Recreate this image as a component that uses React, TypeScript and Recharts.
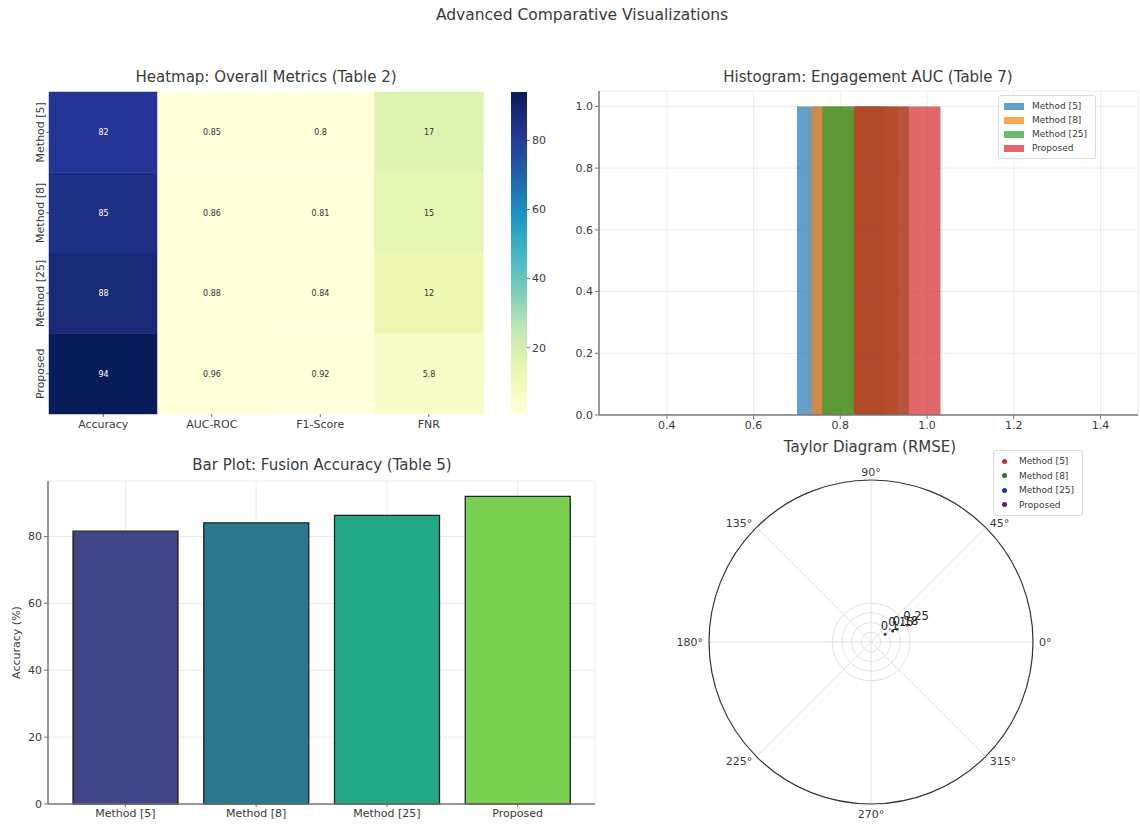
import React from 'react';
import {
  BarChart, Bar, XAxis, YAxis, Cell, LabelList, CartesianGrid, ScatterChart, Scatter,
  ReferenceArea, Legend, RadarChart, Radar, PolarGrid, PolarAngleAxis, PolarRadiusAxis,
} from 'recharts';

const FONT = '"DejaVu Sans", sans-serif';
const TEXT = '#3a3a3a';

// Heatmap: Overall Metrics (Table 2)
const methods = ['Method [5]', 'Method [8]', 'Method [25]', 'Proposed'];
const metrics = ['Accuracy', 'AUC-ROC', 'F1-Score', 'FNR'];
const method5Scores = [82, 0.85, 0.8, 17];
const method8Scores = [85, 0.86, 0.81, 15];
const method25Scores = [88, 0.88, 0.84, 12];
const proposedScores = [94, 0.96, 0.92, 5.8];
const colorbarTicks = [20, 40, 60, 80];

// Histogram: Engagement AUC (Table 7)
const engagementAuc = [0.8, 0.833, 0.858, 0.931];
const histBinWidth = 0.2;
const histColors = ['#1f77b4', '#ff7f0e', '#2ca02c', '#d62728'];
const histXTicks = [0.4, 0.6, 0.8, 1.0, 1.2, 1.4];
const histYTicks = [0, 0.2, 0.4, 0.6, 0.8, 1.0];

// Bar Plot: Fusion Accuracy (Table 5)
const fusionAccuracy = [81.6, 84.1, 86.3, 92.0];
const barColors = ['#414487', '#2a788e', '#22a884', '#7ad151'];
const barYTicks = [0, 20, 40, 60, 80];

// Taylor Diagram (RMSE)
const taylorRmse = [0.25, 0.18, 0.15, 0.1];
const taylorAngleDeg = [25, 26, 27, 29];
const taylorColors = ['#d62728', '#1a7a1a', '#1f2f9f', '#5a1f6a'];
const taylorAngles = ['0°', '45°', '90°', '135°', '180°', '225°', '270°', '315°'];
const taylorRings = [0.06, 0.12, 0.18, 0.24];

// YlGnBu colormap
const ylgnbu = ['#ffffd9', '#edf8b1', '#c7e9b4', '#7fcdbb', '#41b6c4', '#1d91c0', '#225ea8', '#253494', '#081d58'];
const heatRows = [method5Scores, method8Scores, method25Scores, proposedScores];
const allHeat = heatRows.flat();
const VMIN = Math.min(...allHeat);
const VMAX = Math.max(...allHeat);

const hexToRgb = (h: string) => [1, 3, 5].map(i => parseInt(h.slice(i, i + 2), 16));
const cmapT = (t: number) => {
  const p = Math.min(1, Math.max(0, t)) * 8;
  const i = Math.min(7, Math.floor(p));
  const f = p - i;
  const a = hexToRgb(ylgnbu[i]);
  const b = hexToRgb(ylgnbu[i + 1]);
  const c = a.map((v, k) => Math.round(v + (b[k] - v) * f));
  return `rgb(${c[0]},${c[1]},${c[2]})`;
};
const cmap = (v: number) => cmapT((v - VMIN) / (VMAX - VMIN));

const heatData = metrics.map((metric, c) => {
  const row: any = { metric };
  heatRows.forEach((scores, r) => { row[`r${r}`] = scores[c]; });
  return row;
});

const histRanges = engagementAuc.map((v, i) => ({
  name: methods[i], x1: v - histBinWidth / 2, x2: v + histBinWidth / 2, count: 1,
}));
const histCenters = engagementAuc.map(v => ({ x: v, y: 1 }));

const barData = methods.map((m, i) => ({ method: m, accuracy: fusionAccuracy[i] }));

const angleData = taylorAngles.map(a => ({ angle: a, origin: 0 }));
const taylorPoints = methods.map((m, i) => {
  const th = (taylorAngleDeg[i] * Math.PI) / 180;
  return { x: taylorRmse[i] * Math.cos(th), y: taylorRmse[i] * Math.sin(th), label: String(taylorRmse[i]) };
});

const Title = ({ cx, top, children, size = 15 }: any) => (
  <div style={{ position: 'absolute', left: cx - 250, top, width: 500, textAlign: 'center', fontSize: size, color: TEXT }}>
    {children}
  </div>
);

const RowTick = ({ x, y, payload }: any) => {
  const label = methods[3 - Math.floor(payload.value)];
  return (
    <text x={x + 1} y={y} transform={`rotate(-90, ${x + 1}, ${y})`} textAnchor="middle" fontSize={11} fill={TEXT}>
      {label}
    </text>
  );
};

const HeatLabel = ({ x, y, width, height, value }: any) => (
  <text x={x + width / 2} y={y + height / 2} dy={3} textAnchor="middle" fontSize={8}
    fill={value > 50 ? '#ffffff' : '#333333'}>
    {value}
  </text>
);

const AngleTick = ({ x, y, payload, textAnchor }: any) => {
  const v = payload.value;
  const dy = v === '90°' ? 2 : v === '270°' ? 8 : 4;
  return (
    <text x={x} y={y} dy={dy} textAnchor={textAnchor} fontSize={11} fill={TEXT}>{v}</text>
  );
};

const HistLegend = () => (
  <div style={{ border: '1px solid #dcdcdc', borderRadius: 3, background: 'rgba(255,255,255,0.85)', padding: '3px 8px 3px 5px', fontSize: 9, color: TEXT }}>
    {methods.map((m, i) => (
      <div key={m} style={{ display: 'flex', alignItems: 'center', height: 14 }}>
        <span style={{ display: 'inline-block', width: 20, height: 7, background: histColors[i], opacity: 0.7, marginRight: 8 }} />
        {m}
      </div>
    ))}
  </div>
);

const TaylorLegend = () => (
  <div style={{ border: '1px solid #dcdcdc', borderRadius: 3, background: 'rgba(255,255,255,0.85)', padding: '3px 8px', fontSize: 9, color: TEXT }}>
    {methods.map((m, i) => (
      <div key={m} style={{ display: 'flex', alignItems: 'center', height: 14.5 }}>
        <span style={{ display: 'inline-block', width: 5, height: 5, borderRadius: 3, background: taylorColors[i], marginRight: 12 }} />
        {m}
      </div>
    ))}
  </div>
);

const TaylorLabel = ({ x, y, value }: any) => (
  <text x={x} y={y} fontSize={11.5} fill="#222">{value}</text>
);

export default function App() {
  return (
    <div style={{ position: 'absolute', left: 0, top: 0, width: 1140, height: 824, background: '#fff', fontFamily: FONT, overflow: 'hidden' }}>
      <Title cx={582} top={6} size={15.5}>Advanced Comparative Visualizations</Title>

      {/* heatmap */}
      <Title cx={266} top={68}>Heatmap: Overall Metrics (Table 2)</Title>
      <div style={{ position: 'absolute', left: 0, top: 60 }}>
        <BarChart width={500} height={380} data={heatData} barCategoryGap={0}
          margin={{ top: 32, right: 17, bottom: 0, left: 0 }}>
          <XAxis dataKey="metric" axisLine={false} tickSize={3} tickMargin={3}
            tick={{ fontSize: 11, fill: TEXT }} height={26} />
          <YAxis type="number" domain={[0, 4]} ticks={[0.5, 1.5, 2.5, 3.5]} width={49}
            axisLine={false} tickSize={3} tickMargin={3} tick={<RowTick />} />
          {[3, 2, 1, 0].map(r => (
            <Bar key={r} dataKey={() => 1} stackId="heat" isAnimationActive={false}>
              {heatData.map((d, c) => (
                <Cell key={c} fill={cmap(d[`r${r}`])} stroke={cmap(d[`r${r}`])} strokeWidth={0.5} />
              ))}
              <LabelList dataKey={`r${r}`} content={<HeatLabel />} />
            </Bar>
          ))}
        </BarChart>
      </div>

      {/* colorbar */}
      <div style={{ position: 'absolute', left: 480, top: 60 }}>
        <BarChart width={80} height={380} data={[{ name: 'cb', range: [VMIN, VMAX] }]} barCategoryGap={0}
          margin={{ top: 32, right: 0, bottom: 26, left: 31 }}>
          <defs>
            <linearGradient id="ylgnbuGrad" x1="0" y1="1" x2="0" y2="0">
              {ylgnbu.map((c, i) => <stop key={i} offset={`${(i / 8) * 100}%`} stopColor={c} />)}
            </linearGradient>
          </defs>
          <XAxis dataKey="name" hide />
          <YAxis orientation="right" type="number" domain={[VMIN, VMAX]} ticks={colorbarTicks} width={33}
            axisLine={false} tickSize={3} tickMargin={2} tick={{ fontSize: 11, fill: TEXT }} tickLine={{ stroke: '#777' }} />
          <Bar dataKey="range" fill="url(#ylgnbuGrad)" isAnimationActive={false} />
        </BarChart>
      </div>

      {/* histogram */}
      <Title cx={868} top={68}>Histogram: Engagement AUC (Table 7)</Title>
      <div style={{ position: 'absolute', left: 560, top: 60 }}>
        <ScatterChart width={580} height={390} margin={{ top: 31, right: 2, bottom: 10, left: 4 }}>
          <CartesianGrid stroke="#ececec" />
          <XAxis type="number" dataKey="x" domain={[0.2435, 1.4865]} ticks={histXTicks} allowDataOverflow
            tickFormatter={(v: number) => v.toFixed(1)} axisLine={{ stroke: '#777', strokeWidth: 1.5 }}
            tickLine={{ stroke: '#777' }} tickSize={4} tick={{ fontSize: 11, fill: TEXT }} height={25} />
          <YAxis type="number" dataKey="y" domain={[0, 1.05]} ticks={histYTicks} allowDataOverflow
            tickFormatter={(v: number) => v.toFixed(1)} axisLine={{ stroke: '#777', strokeWidth: 1.5 }}
            tickLine={{ stroke: '#777' }} tickSize={4} tick={{ fontSize: 11, fill: TEXT }} width={35} />
          {histRanges.map((h, i) => (
            <ReferenceArea key={h.name} x1={h.x1} x2={h.x2} y1={0} y2={h.count}
              fill={histColors[i]} fillOpacity={0.7} stroke="none" ifOverflow="visible" />
          ))}
          <Scatter data={histCenters} fill="none" shape={() => <g />} isAnimationActive={false} />
          <Legend content={<HistLegend />} layout="horizontal" verticalAlign="middle" align="center"
            wrapperStyle={{ top: 35, left: 438, width: 'auto' }} />
        </ScatterChart>
      </div>

      {/* bar plot */}
      <Title cx={322} top={456}>Bar Plot: Fusion Accuracy (Table 5)</Title>
      <div style={{ position: 'absolute', left: 0, top: 440 }}>
        <BarChart width={600} height={384} data={barData} margin={{ top: 41, right: 5, bottom: 0, left: 0 }}>
          <CartesianGrid stroke="#ececec" />
          <XAxis dataKey="method" padding={{ left: 12, right: 12 }} axisLine={{ stroke: '#777', strokeWidth: 1.5 }}
            tickLine={{ stroke: '#777' }} tickSize={3} tickMargin={2} tick={{ fontSize: 11, fill: TEXT }} height={20} />
          <YAxis type="number" domain={[0, 96.6]} ticks={barYTicks} width={48}
            axisLine={{ stroke: '#777', strokeWidth: 1.5 }} tickLine={{ stroke: '#777' }} tickSize={4}
            tick={{ fontSize: 11, fill: TEXT }}
            label={{ value: 'Accuracy (%)', angle: -90, position: 'insideLeft', offset: 16, style: { textAnchor: 'middle', fontSize: 11, fill: TEXT } }} />
          <Bar dataKey="accuracy" barSize={105} stroke="#222" strokeWidth={1.3} isAnimationActive={false}>
            {barData.map((d, i) => <Cell key={d.method} fill={barColors[i]} />)}
          </Bar>
        </BarChart>
      </div>

      {/* taylor diagram */}
      <Title cx={870} top={438}>Taylor Diagram (RMSE)</Title>
      <div style={{ position: 'absolute', left: 650, top: 460 }}>
        <RadarChart width={442} height={364} cx={221} cy={182} outerRadius={162}
          startAngle={45} endAngle={405} data={angleData}>
          <PolarGrid gridType="circle" stroke="#e2e2e2" />
          <PolarAngleAxis dataKey="angle" tick={<AngleTick />} tickLine={false} tickSize={6}
            axisLineType="circle" axisLine={{ stroke: '#333', strokeWidth: 1.2 }} />
          <PolarRadiusAxis type="number" domain={[0, 1]} ticks={taylorRings} tick={false} axisLine={false} />
          <Radar dataKey="origin" stroke="none" fill="none" isAnimationActive={false} />
        </RadarChart>
      </div>
      <div style={{ position: 'absolute', left: 700, top: 440 }}>
        <ScatterChart width={440} height={384} margin={{ top: 40, right: 107, bottom: 20, left: 9 }}>
          <XAxis type="number" dataKey="x" domain={[-1, 1]} hide />
          <YAxis type="number" dataKey="y" domain={[-1, 1]} hide />
          {methods.map((m, i) => (
            <Scatter key={m} name={m} data={[taylorPoints[i]]} fill={taylorColors[i]} isAnimationActive={false}
              shape={(p: any) => <circle cx={p.cx} cy={p.cy} r={1.5} fill={taylorColors[i]} />}>
              <LabelList dataKey="label" content={<TaylorLabel />} />
            </Scatter>
          ))}
          <Legend content={<TaylorLegend />} layout="horizontal" verticalAlign="middle" align="center"
            wrapperStyle={{ top: 10, left: 293, width: 'auto' }} />
        </ScatterChart>
      </div>
    </div>
  );
}
